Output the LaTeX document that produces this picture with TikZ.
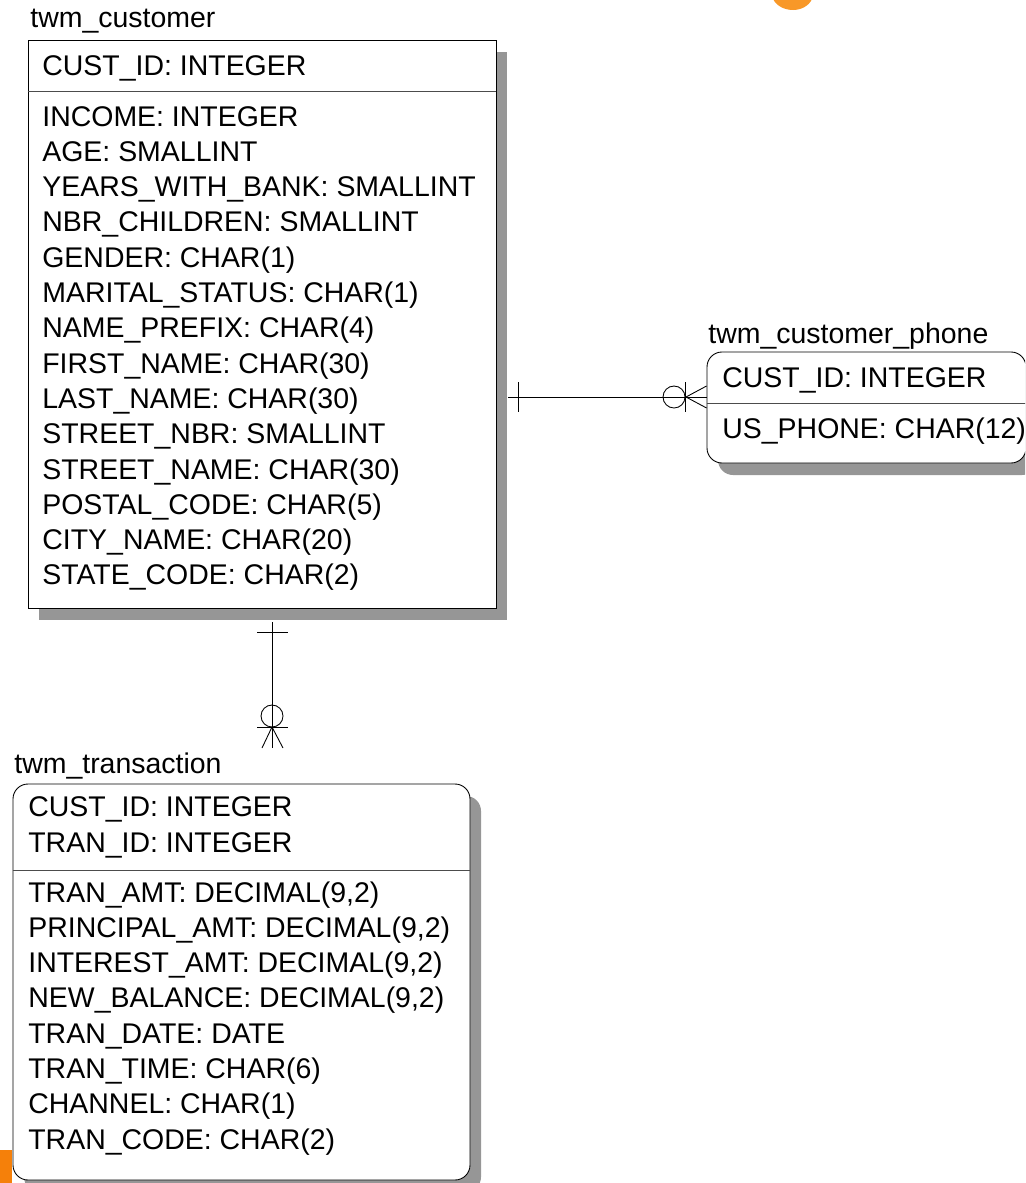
\documentclass[tikz,border=0pt]{standalone}
\usepackage{fontspec}
\setmainfont{Liberation Sans}
\definecolor{erorange}{RGB}{248,152,40}
\definecolor{erorangedark}{RGB}{245,128,10}
\definecolor{ershadow}{RGB}{150,150,150}
\usetikzlibrary{positioning,fit,shadows}

\begin{document}
\begin{tikzpicture}[x=0.02cm,y=-0.02cm,
  tbl/.style={draw,line width=0.5pt,fill=white,inner sep=0pt,
    drop shadow={shadow xshift=0.22cm,shadow yshift=-0.24cm,fill=ershadow,opacity=1}},
  rtbl/.style={tbl,rounded corners=0.3cm},
  attr/.style={anchor=base west,inner sep=0pt,font=\fontsize{16.2}{20}\selectfont},
  divider/.style={draw=black!70,line width=0.5pt},
  rel/.style={line width=0.5pt}]
  \clip (0,0) rectangle (1025,1183);
  % Orange page decorations
  \fill[erorange] (773,-1) .. controls (777,7) and (786,10) .. (793,10) .. controls (801,10) and (809,6) .. (812,-1) -- cycle;
  \fill[erorangedark] (0,1150) rectangle (12,1183);
  % twm_customer
  \node[attr] (custtitle) at (30,28) {twm\_customer};
  \node[tbl,fit={(28,40) (496,608)}] (cust) {};
  \draw[divider] (cust.west |- 0,91) -- (cust.east |- 0,91);
  \node[attr] (custkey) at (42,75) {CUST\_ID: INTEGER};
  \foreach \t [count=\i from 0] in {INCOME: INTEGER, AGE: SMALLINT,
      YEARS\_WITH\_BANK: SMALLINT, NBR\_CHILDREN: SMALLINT, GENDER: CHAR(1),
      MARITAL\_STATUS: CHAR(1), NAME\_PREFIX: CHAR(4), FIRST\_NAME: CHAR(30),
      LAST\_NAME: CHAR(30), STREET\_NBR: SMALLINT, STREET\_NAME: CHAR(30),
      POSTAL\_CODE: CHAR(5), CITY\_NAME: CHAR(20), STATE\_CODE: CHAR(2)}
    \node[attr] (cust\i) at (42,{126+35.3*\i}) {\t};
  % twm_customer_phone
  \node[attr] (phonetitle) at (708,343) {twm\_customer\_phone};
  \node[rtbl,fit={(707,352) (1026,463)}] (phone) {};
  \draw[divider] (phone.west |- 0,403) -- (phone.east |- 0,403);
  \node[attr] (phonekey) at (722,387) {CUST\_ID: INTEGER};
  \node[attr] (phone0) at (722,438) {US\_PHONE: CHAR(12)};
  % twm_transaction
  \node[attr] (trantitle) at (14,773) {twm\_transaction};
  \node[rtbl,fit={(13,784) (470,1180)}] (tran) {};
  \draw[divider] (tran.west |- 0,870) -- (tran.east |- 0,870);
  \node[attr] (trankey1) at (28,816) {CUST\_ID: INTEGER};
  \node[attr] (trankey2) at (28,852) {TRAN\_ID: INTEGER};
  \foreach \t [count=\i from 0] in {{TRAN\_AMT: DECIMAL(9,2)},
      {PRINCIPAL\_AMT: DECIMAL(9,2)}, {INTEREST\_AMT: DECIMAL(9,2)},
      {NEW\_BALANCE: DECIMAL(9,2)}, TRAN\_DATE: DATE, TRAN\_TIME: CHAR(6),
      CHANNEL: CHAR(1), TRAN\_CODE: CHAR(2)}
    \node[attr] (tran\i) at (28,{902+35.3*\i}) {\t};
  % Relationship customer -> phone (one to zero or many)
  \coordinate (r1a) at (508,397);
  \coordinate (r1b) at (phone.west |- r1a);
  \draw[rel] (r1a) -- (r1b);
  \draw[rel] (518,382) -- (518,412);
  \draw[rel] (674,397) circle (0.22cm);
  \draw[rel] (685,382) -- (685,412);
  \draw[rel] (r1b |- 0,386) -- (686,397) -- (r1b |- 0,408);
  % Relationship customer -> transaction (one to zero or many)
  \coordinate (r2a) at (272,622);
  \coordinate (r2b) at (272,748);
  \draw[rel] (r2a) -- (r2b);
  \draw[rel] (257,632) -- (288,632);
  \draw[rel] (272,716) circle (0.22cm);
  \draw[rel] (257,727) -- (288,727);
  \draw[rel] (262,748) -- (272,727) -- (283,748);
\end{tikzpicture}
\end{document}
